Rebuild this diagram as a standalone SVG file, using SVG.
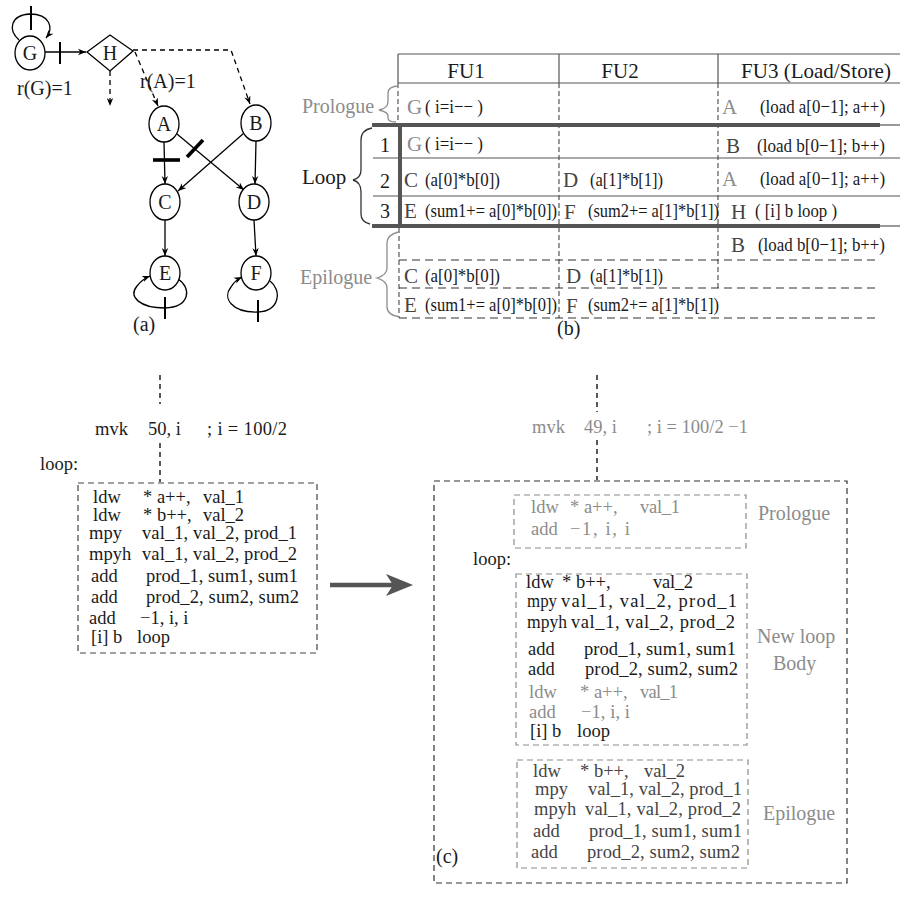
<svg xmlns="http://www.w3.org/2000/svg" width="902" height="903" viewBox="0 0 902 903">
<style>
  text { font-family: "Liberation Serif", "Times New Roman", serif; fill: #1a1a1a; }
  .nl { font-size: 20px; text-anchor: middle; }
  .lbl { font-size: 20px; }
  .hd { font-size: 21px; text-anchor: middle; }
  .op { font-size: 21px; }
  .ex { font-size: 19px; }
  .gray { fill: #8c8c8c; }
  .dk { fill: #444; }
  .c19 { font-size: 18.5px; }
  .edge { fill: none; stroke: #000; stroke-width: 1.3; }
  .dash { stroke-dasharray: 5 4; }
  .tick { stroke: #000; stroke-width: 2; }
  .tick2 { stroke: #000; stroke-width: 3.6; }
  .node { fill: #fff; stroke: #000; stroke-width: 1.3; }
  .tl { stroke: #555; stroke-width: 1.2; fill: none; }
  .tk { stroke: #555; stroke-width: 4; fill: none; }
  .td { stroke: #333; stroke-width: 1.2; stroke-dasharray: 8 5; fill: none; }
  .tv { stroke: #555; stroke-width: 1.2; stroke-dasharray: 5 3; fill: none; }
  .brace { fill: none; stroke-width: 1.3; }
  .box { fill: none; stroke: #444; stroke-width: 1.2; stroke-dasharray: 6 4; }
  .gbox { fill: none; stroke: #8c8c8c; stroke-width: 1.2; stroke-dasharray: 6 4; }
</style>
<defs>
  <marker id="ah" viewBox="0 0 10 10" refX="10" refY="5" markerWidth="8" markerHeight="8" orient="auto" markerUnits="userSpaceOnUse">
    <path d="M0,1 L10,5 L0,9 L3,5 z" fill="#000"/>
  </marker>
</defs>
<rect width="902" height="903" fill="#fff"/>

<!-- (a) dependence graph -->
<g id="connectors">
  <!-- G self loop -->
  <path class="edge" d="M19,40 C8,30 10,15 30,14 C50,14 54,28 46,38" marker-end="url(#ah)"/>
  <line class="tick" x1="31" y1="6" x2="31" y2="30"/>
  <!-- G to H -->
  <line class="edge" x1="45" y1="52" x2="86" y2="52" marker-end="url(#ah)"/>
  <line class="tick" x1="60" y1="42" x2="60" y2="64"/>
  <!-- H outgoing dashed edges -->
  <line class="edge dash" x1="110" y1="71" x2="110" y2="106" marker-end="url(#ah)"/>
  <polyline class="edge dash" points="133,50 231,50 250,104" marker-end="url(#ah)"/>
  <line class="edge dash" x1="135" y1="52" x2="158" y2="106" marker-end="url(#ah)"/>
  <!-- A and B to C and D -->
  <line class="edge" x1="164" y1="142" x2="165" y2="184" marker-end="url(#ah)"/>
  <line class="tick2" x1="153" y1="160" x2="180" y2="160"/>
  <line class="edge" x1="177" y1="134" x2="244" y2="190" marker-end="url(#ah)"/>
  <line class="tick2" x1="187" y1="157" x2="203" y2="140"/>
  <line class="edge" x1="244" y1="133" x2="178" y2="191" marker-end="url(#ah)"/>
  <line class="edge" x1="256" y1="141" x2="255" y2="184" marker-end="url(#ah)"/>
  <!-- C to E, D to F -->
  <line class="edge" x1="165" y1="220" x2="165" y2="256" marker-end="url(#ah)"/>
  <line class="edge" x1="254" y1="220" x2="256" y2="256" marker-end="url(#ah)"/>
  <!-- E and F self loops -->
  <path class="edge" d="M178,279 C192,288 190,307 165,308 C140,308 128,297 137,286 C141,281 145,278 150,276" marker-end="url(#ah)"/>
  <line class="tick" x1="165" y1="297" x2="165" y2="319"/>
  <path class="edge" d="M270,281 C282,290 280,311 258,312 C232,313 222,298 231,287 C234,282 238,279 242,277" marker-end="url(#ah)"/>
  <line class="tick" x1="258" y1="300" x2="258" y2="322"/>
</g>

<g id="node-G"><ellipse class="node" cx="30" cy="53" rx="15" ry="17"/><text class="nl" x="30" y="60">G</text></g>
<g id="node-H"><polygon class="node" points="87,52 110,35 133,51 110,71"/><text class="nl" x="110" y="60">H</text></g>
<g id="node-A"><ellipse class="node" cx="164" cy="124" rx="15" ry="18"/><text class="nl" x="164" y="131">A</text></g>
<g id="node-B"><ellipse class="node" cx="256" cy="123" rx="15" ry="18"/><text class="nl" x="256" y="130">B</text></g>
<g id="node-C"><ellipse class="node" cx="165" cy="202" rx="15" ry="18"/><text class="nl" x="165" y="209">C</text></g>
<g id="node-D"><ellipse class="node" cx="254" cy="202" rx="15" ry="18"/><text class="nl" x="254" y="209">D</text></g>
<g id="node-E"><ellipse class="node" cx="165" cy="273" rx="15" ry="17"/><text class="nl" x="165" y="280">E</text></g>
<g id="node-F"><ellipse class="node" cx="256" cy="273" rx="15" ry="17"/><text class="nl" x="256" y="280">F</text></g>

<text class="lbl" x="17" y="95">r(G)=1</text>
<text class="lbl" x="140" y="88">r(A)=1</text>
<text class="lbl" x="133" y="331">(a)</text>

<!-- (b) schedule table -->
<g id="table-lines">
  <line class="tl" x1="398" y1="54" x2="900" y2="54"/>
  <line class="tl" x1="398" y1="83" x2="900" y2="83"/>
  <line class="tl" x1="398" y1="54" x2="398" y2="83"/>
  <line class="tl" x1="559" y1="54" x2="559" y2="83"/>
  <line class="tl" x1="718" y1="54" x2="718" y2="83"/>
  <line class="tv" x1="398" y1="83" x2="398" y2="124"/>
  <line class="tv" x1="559" y1="83" x2="559" y2="318"/>
  <line class="tv" x1="718" y1="83" x2="718" y2="290"/>
  <line class="tk" x1="372" y1="125" x2="880" y2="125"/>
  <line class="tl" x1="880" y1="125" x2="900" y2="125"/>
  <line class="tl" x1="373" y1="158" x2="900" y2="158"/>
  <line class="tl" x1="373" y1="196" x2="900" y2="196"/>
  <line class="tk" x1="372" y1="226" x2="880" y2="226"/>
  <line class="tl" x1="880" y1="226" x2="900" y2="226"/>
  <line class="tk" x1="400" y1="123" x2="400" y2="228"/>
  <line class="tv" x1="399" y1="228" x2="399" y2="318"/>
  <line class="td" x1="399" y1="260" x2="877" y2="260"/>
  <line class="td" x1="399" y1="288" x2="877" y2="288"/>
  <line class="td" x1="399" y1="318" x2="877" y2="318"/>
</g>

<g id="table-header">
  <text class="hd" x="466" y="78">FU1</text>
  <text class="hd" x="620" y="78">FU2</text>
  <text class="hd" x="816" y="78">FU3 (Load/Store)</text>
</g>

<g id="table-stages">
  <text class="lbl gray" x="302" y="113">Prologue</text>
  <path class="brace" stroke="#8c8c8c" d="M397,86 Q388,87 388,93 L388,102 Q388,108 379,110 Q388,112 388,116 L388,118 Q388,122 396,122"/>
  <text class="lbl" x="302" y="184" style="font-size:21px">Loop</text>
  <path class="brace" stroke="#333" d="M372,128 Q361,130 361,140 L361,170 Q361,178 353,180 Q361,182 361,192 L361,214 Q361,222 370,224"/>
  <text class="lbl gray" x="300" y="284">Epilogue</text>
  <path class="brace" stroke="#8c8c8c" d="M398,232 Q387,235 387,243 L387,268 Q387,275 377,278 Q387,281 387,288 L387,307 Q387,315 400,317"/>
  <text class="lbl" x="385" y="152" text-anchor="middle">1</text>
  <text class="lbl" x="385" y="188" text-anchor="middle">2</text>
  <text class="lbl" x="385" y="218" text-anchor="middle">3</text>
</g>

<g id="table-cells">
  <text class="op gray" x="407" y="114">G</text>
  <text class="ex" x="425" y="113" textLength="58" lengthAdjust="spacingAndGlyphs">( i=i−− )</text>
  <text class="op gray" x="722" y="114">A</text>
  <text class="ex" x="760" y="113" textLength="125" lengthAdjust="spacingAndGlyphs">(load  a[0−1]; a++)</text>

  <text class="op gray" x="407" y="151">G</text>
  <text class="ex" x="425" y="150" textLength="58" lengthAdjust="spacingAndGlyphs">( i=i−− )</text>
  <text class="op dk" x="726" y="153">B</text>
  <text class="ex" x="757" y="152" textLength="128" lengthAdjust="spacingAndGlyphs">(load b[0−1]; b++)</text>

  <text class="op dk" x="404" y="187">C</text>
  <text class="ex" x="425" y="186" textLength="75" lengthAdjust="spacingAndGlyphs">(a[0]*b[0])</text>
  <text class="op dk" x="563" y="187">D</text>
  <text class="ex" x="590" y="186" textLength="73" lengthAdjust="spacingAndGlyphs">(a[1]*b[1])</text>
  <text class="op gray" x="722" y="186">A</text>
  <text class="ex" x="760" y="185" textLength="125" lengthAdjust="spacingAndGlyphs">(load  a[0−1]; a++)</text>

  <text class="op dk" x="404" y="218">E</text>
  <text class="ex" x="425" y="217" textLength="132" lengthAdjust="spacingAndGlyphs">(sum1+= a[0]*b[0])</text>
  <text class="op dk" x="564" y="219">F</text>
  <text class="ex" x="588" y="217" textLength="131" lengthAdjust="spacingAndGlyphs">(sum2+= a[1]*b[1])</text>
  <text class="op dk" x="731" y="219">H</text>
  <text class="ex" x="755" y="217" textLength="82" lengthAdjust="spacingAndGlyphs">( [i] b loop )</text>

  <text class="op dk" x="731" y="252">B</text>
  <text class="ex" x="758" y="251" textLength="127" lengthAdjust="spacingAndGlyphs">(load b[0−1]; b++)</text>

  <text class="op dk" x="404" y="283">C</text>
  <text class="ex" x="425" y="282" textLength="75" lengthAdjust="spacingAndGlyphs">(a[0]*b[0])</text>
  <text class="op dk" x="566" y="283">D</text>
  <text class="ex" x="590" y="282" textLength="73" lengthAdjust="spacingAndGlyphs">(a[1]*b[1])</text>

  <text class="op dk" x="404" y="312">E</text>
  <text class="ex" x="425" y="311" textLength="132" lengthAdjust="spacingAndGlyphs">(sum1+= a[0]*b[0])</text>
  <text class="op dk" x="566" y="313">F</text>
  <text class="ex" x="588" y="311" textLength="131" lengthAdjust="spacingAndGlyphs">(sum2+= a[1]*b[1])</text>
</g>
<text class="lbl" x="557" y="335">(b)</text>

<!-- (c) original loop -->
<g id="code-original">
  <line class="edge dash" x1="160" y1="375" x2="160" y2="404" stroke="#222"/>
  <text class="c19" x="95" y="435">mvk</text>
  <text class="c19" x="148" y="435">50, i</text>
  <text class="c19" x="207" y="435" textLength="80">; i = 100/2</text>
  <line class="edge dash" x1="160" y1="443" x2="160" y2="482" stroke="#222"/>
  <text class="c19" x="40" y="470">loop:</text>
  <rect class="box" x="78" y="483" width="239" height="170"/>
  <text class="c19" x="93" y="503">ldw</text><text class="c19" x="143" y="503">* a++,</text><text class="c19" x="203" y="503">val_1</text>
  <text class="c19" x="93" y="521">ldw</text><text class="c19" x="143" y="521">* b++,</text><text class="c19" x="203" y="521">val_2</text>
  <text class="c19" x="89" y="539">mpy</text><text class="c19" x="142" y="539" textLength="155">val_1, val_2, prod_1</text>
  <text class="c19" x="89" y="560">mpyh</text><text class="c19" x="142" y="560" textLength="155">val_1, val_2, prod_2</text>
  <text class="c19" x="91" y="582">add</text><text class="c19" x="146" y="582" textLength="152">prod_1, sum1, sum1</text>
  <text class="c19" x="91" y="603">add</text><text class="c19" x="146" y="603" textLength="153">prod_2, sum2, sum2</text>
  <text class="c19" x="89" y="624">add</text><text class="c19" x="140" y="624">−1, i, i</text>
  <text class="c19" x="91" y="643">[i] b</text><text class="c19" x="137" y="643">loop</text>
</g>

<!-- transformation arrow -->
<g id="transform-arrow">
  <line x1="330" y1="585" x2="396" y2="585" stroke="#555" stroke-width="4.5"/>
  <path d="M413,585 L386,574 L393,585 L386,596 z" fill="#555"/>
</g>

<!-- (c) pipelined loop -->
<g id="code-pipelined">
  <line class="edge dash" x1="597" y1="375" x2="597" y2="412" stroke="#222"/>
  <text class="c19 gray" x="532" y="433">mvk</text>
  <text class="c19 gray" x="584" y="433">49, i</text>
  <text class="c19 gray" x="647" y="433" textLength="101">; i = 100/2 −1</text>
  <line class="edge dash" x1="597" y1="440" x2="597" y2="480" stroke="#222"/>
  <rect class="box" x="434" y="481" width="413" height="402" style="stroke:#333"/>

  <rect class="gbox" x="514" y="495" width="232" height="53"/>
  <text class="c19 gray" x="531" y="513">ldw</text><text class="c19 gray" x="570" y="513">* a++,</text><text class="c19 gray" x="640" y="513" textLength="40">val_1</text>
  <text class="c19 gray" x="531" y="535">add</text><text class="c19 gray" x="570" y="535" textLength="60">−1, i, i</text>
  <text class="lbl gray" x="758" y="520">Prologue</text>

  <text class="c19" x="473" y="565">loop:</text>
  <rect class="gbox" x="516" y="574" width="231" height="171"/>
  <text class="c19" x="526" y="588">ldw</text><text class="c19" x="562" y="588">* b++,</text><text class="c19" x="653" y="588" textLength="40">val_2</text>
  <text class="c19" x="527" y="607" textLength="30" lengthAdjust="spacingAndGlyphs">mpy</text><text class="c19" x="561" y="607" textLength="176">val_1, val_2, prod_1</text>
  <text class="c19" x="527" y="628" textLength="40" lengthAdjust="spacingAndGlyphs">mpyh</text><text class="c19" x="571" y="628" textLength="164">val_1, val_2, prod_2</text>
  <text class="c19" x="528" y="655">add</text><text class="c19" x="584" y="655" textLength="152">prod_1, sum1, sum1</text>
  <text class="c19" x="528" y="675">add</text><text class="c19" x="585" y="675" textLength="153">prod_2, sum2, sum2</text>
  <text class="c19 gray" x="529" y="698">ldw</text><text class="c19 gray" x="580" y="698">* a++,</text><text class="c19 gray" x="640" y="698" textLength="38">val_1</text>
  <text class="c19 gray" x="529" y="718">add</text><text class="c19 gray" x="581" y="718" textLength="49">−1, i, i</text>
  <text class="c19" x="530" y="737">[i] b</text><text class="c19" x="577" y="737">loop</text>
  <text class="lbl gray" x="757" y="643">New loop</text>
  <text class="lbl gray" x="773" y="670">Body</text>

  <rect class="gbox" x="517" y="760" width="231" height="108"/>
  <text class="c19 dk" x="533" y="777">ldw</text><text class="c19 dk" x="580" y="777">* b++,</text><text class="c19 dk" x="644" y="777">val_2</text>
  <text class="c19 dk" x="535" y="795">mpy</text><text class="c19 dk" x="588" y="795" textLength="154">val_1, val_2, prod_1</text>
  <text class="c19 dk" x="534" y="815">mpyh</text><text class="c19 dk" x="585" y="815" textLength="156">val_1, val_2, prod_2</text>
  <text class="c19 dk" x="533" y="837">add</text><text class="c19 dk" x="589" y="837" textLength="153">prod_1, sum1, sum1</text>
  <text class="c19 dk" x="531" y="858">add</text><text class="c19 dk" x="587" y="858" textLength="153">prod_2, sum2, sum2</text>
  <text class="lbl gray" x="763" y="820">Epilogue</text>
</g>
<text class="lbl" x="436" y="863">(c)</text>
</svg>
